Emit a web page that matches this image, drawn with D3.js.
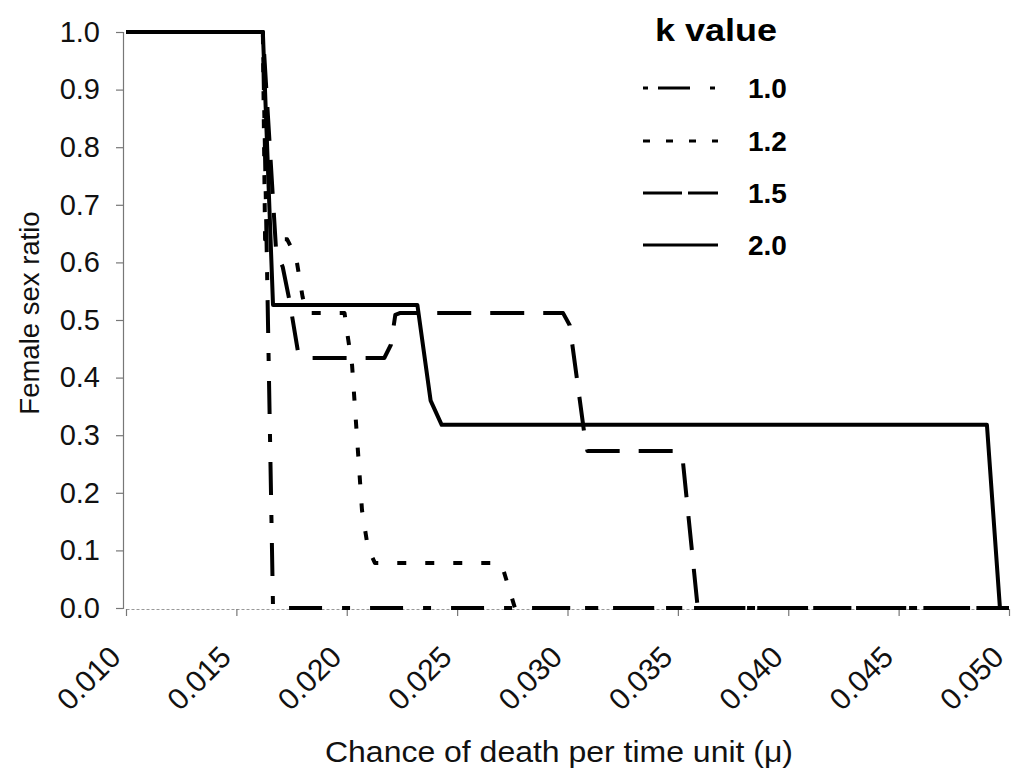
<!DOCTYPE html>
<html><head><meta charset="utf-8">
<script src="https://cdn.jsdelivr.net/npm/d3@7"></script>
<style>
html,body{margin:0;padding:0;background:#fff;}
svg{display:block;font-family:"Liberation Sans",Arial,sans-serif;}
</style></head>
<body><svg id="c" width="1015" height="775"></svg>
<script>
// ---- data ----
const xTicks = [0.010,0.015,0.020,0.025,0.030,0.035,0.040,0.045,0.050];
const yTicks = [0,0.1,0.2,0.3,0.4,0.5,0.6,0.7,0.8,0.9,1.0];
const seriesNames = ["1.0","1.2","1.5","2.0"];
const mu_k10 = [0.010,0.0162,0.01666,0.050];
const sr_k10 = [1,1,0,0];
const mu_k12 = [0.010,0.0162,0.0163,0.0173,0.0177,0.0180,0.0182,0.0199,0.0200,0.02024,0.02069,0.02096,0.02128,0.0268,0.02703,0.02762,0.050];
const sr_k12 = [1,1,0.64,0.64,0.61,0.54,0.512,0.512,0.483,0.422,0.170,0.104,0.078,0.078,0.074,0,0];
const mu_k15 = [0.010,0.0162,0.0168,0.0171,0.0174,0.0178,0.0181,0.0217,0.0220,0.0222,0.0224,0.0298,0.0301,0.03075,0.0309,0.0349,0.0352,0.0359,0.050];
const sr_k15 = [1,1,0.62,0.592,0.535,0.443,0.434,0.434,0.457,0.509,0.512,0.512,0.491,0.306,0.2726,0.2726,0.265,0,0];
const mu_k20 = [0.010,0.0162,0.01666,0.0232,0.0238,0.0243,0.0490,0.04959];
const sr_k20 = [1,1,0.526,0.526,0.36,0.318,0.318,0];

const svg = d3.select("#c");
const x = d3.scaleLinear().domain([0.010,0.050]).range([126,1009]);
const y = d3.scaleLinear().domain([0,1]).range([608,32]);

// axes
const yAxis = svg.append("g").attr("transform","translate(123,0)")
  .call(d3.axisLeft(y).tickValues(yTicks).tickFormat(d3.format(".1f")).tickSize(7).tickPadding(16));
yAxis.select(".domain").attr("stroke","#777").attr("stroke-width",1.2);
yAxis.selectAll(".tick line").attr("stroke","#777").attr("stroke-width",1.2);
yAxis.selectAll("text").attr("font-size",29).attr("fill","#111").attr("font-family","Liberation Sans, Arial, sans-serif");

const xAxis = svg.append("g").attr("transform","translate(0,609)")
  .call(d3.axisBottom(x).tickValues(xTicks).tickFormat(d3.format(".3f")).tickSize(7).tickSizeOuter(0));
xAxis.select(".domain").attr("stroke","#999").attr("stroke-width",1).attr("stroke-dasharray","3,2");
xAxis.selectAll(".tick line").attr("stroke","#777").attr("stroke-width",1.2);
xAxis.selectAll("text").attr("font-size",30).attr("fill","#111")
  .attr("font-family","Liberation Sans, Arial, sans-serif")
  .attr("text-anchor","end").attr("y",0).attr("dy",0)
  .attr("transform","translate(-4,50) rotate(-45)");

// series
const line = d3.line().x(d=>x(d[0])).y(d=>y(d[1]));
const data = [
  {mu:mu_k10, sr:sr_k10, dash:"33,20,8,20"},
  {mu:mu_k12, sr:sr_k12, dash:"9,19"},
  {mu:mu_k15, sr:sr_k15, dash:"34,19"},
  {mu:mu_k20, sr:sr_k20, dash:null}
];
data.forEach(s=>{
  svg.append("path").datum(s.mu.map((m,i)=>[m,s.sr[i]]))
    .attr("d",line).attr("fill","none").attr("stroke","#000")
    .attr("stroke-width",4).attr("stroke-linejoin","round")
    .attr("stroke-dasharray",s.dash);
});

// titles
svg.append("text").attr("x",325).attr("y",762)
  .attr("font-size",29).attr("fill","#111")
  .attr("textLength",468).attr("lengthAdjust","spacingAndGlyphs")
  .text("Chance of death per time unit (μ)");
svg.append("text").attr("transform","translate(39,313) rotate(-90)").attr("text-anchor","middle")
  .attr("font-size",27.5).attr("fill","#111").text("Female sex ratio");

// legend
const legDash = ["5,10,32,20,5,60","7,16","39,6,30,60",null];
const legY = [88,141,193,245];
svg.append("text").attr("x",655).attr("y",41)
  .attr("font-size",31).attr("font-weight","bold").attr("fill","#000")
  .attr("textLength",122).attr("lengthAdjust","spacingAndGlyphs").text("k value");
seriesNames.forEach((n,i)=>{
  svg.append("line").attr("x1",643).attr("x2",718).attr("y1",legY[i]).attr("y2",legY[i])
    .attr("stroke","#000").attr("stroke-width",3).attr("stroke-dasharray",legDash[i]);
  svg.append("text").attr("x",748).attr("y",legY[i]+10).attr("font-size",28)
    .attr("font-weight","bold").attr("fill","#000").text(n);
});
</script></body></html>
